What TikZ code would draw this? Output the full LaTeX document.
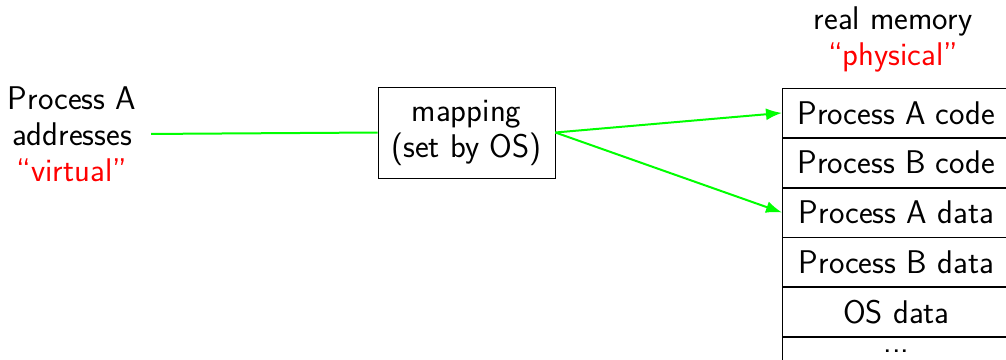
\documentclass[tikz,border=0pt]{standalone}
\usetikzlibrary{arrows.meta}
\begin{document}
\begin{tikzpicture}[x=0.5pt,y=-0.5pt,
  every node/.style={font=\sffamily\fontsize{16.4}{18}\selectfont},
  lbl/.style={align=center},
  mapbox/.style={draw, align=center, minimum width=88.5pt, minimum height=45.5pt, inner sep=0pt},
  memrow/.style={draw, minimum width=114pt, minimum height=24.5pt, inner sep=0pt, anchor=north west},
  link/.style={draw=green, line width=1pt},
  linkarrow/.style={link, -{Latex[length=8pt,width=6pt]}}]
\useasboundingbox (0,0) rectangle (1006,359);
\node[lbl] (virt) at (72,134) {Process A\\addresses\\\textcolor{red}{``virtual''}};
\node[mapbox] (map) at (466.5,132.5) {mapping\\(set by OS)};
\node[lbl] (real) at (893,39) {real memory\\\textcolor{red}{``physical''}};
\node[memrow] (r1) at (782,88) {Process A code};
\node[memrow] (r2) at (r1.south west) {Process B code};
\node[memrow] (r3) at (r2.south west) {Process A data};
\node[memrow] (r4) at (r3.south west) {Process B data};
\node[memrow] (r5) at (r4.south west) {OS data};
\node[memrow] (r6) at (r5.south west) {};
\node[anchor=base, inner sep=0pt] (dots) at ([yshift=-7.5pt]r6.north) {...};
\draw[link, shorten <=4pt] (virt.east) -- (map.west);
\draw[linkarrow] (map.east) -- (r1.west);
\draw[linkarrow] (map.east) -- (r3.west);
\end{tikzpicture}
\end{document}
